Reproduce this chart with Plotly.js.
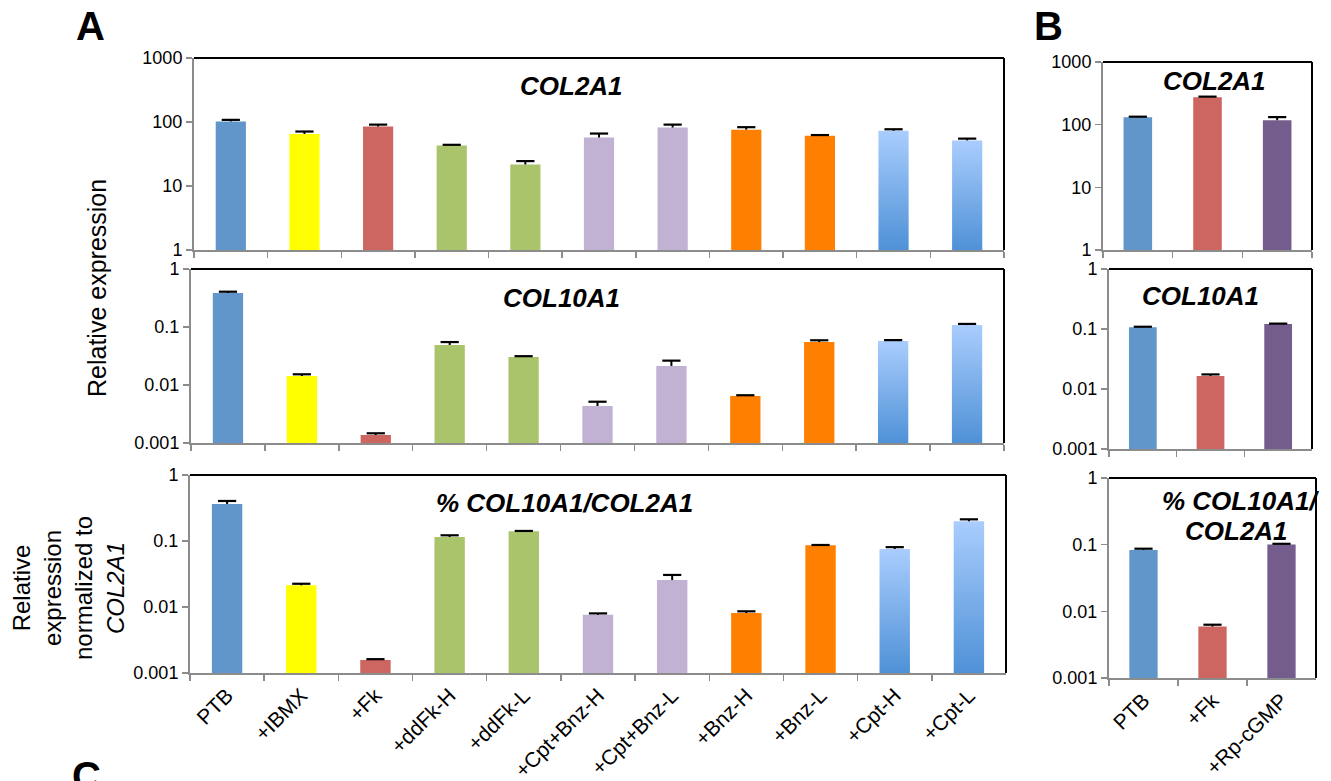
<!DOCTYPE html>
<html>
<head>
<meta charset="utf-8">
<script src="https://cdn.plot.ly/plotly-3.0.1.min.js"></script>
<style>
  html, body { margin: 0; padding: 0; background: #ffffff; }
  #chart { width: 1331px; height: 781px; }
</style>
</head>
<body>
<div id="chart"></div>
<script>
// ---------------- DATA ----------------
const catsA = ['PTB', '+IBMX', '+Fk', '+ddFk-H', '+ddFk-L', '+Cpt+Bnz-H', '+Cpt+Bnz-L', '+Bnz-H', '+Bnz-L', '+Cpt-H', '+Cpt-L'];
const col2a1A = [102, 65, 85, 43, 21.7, 57, 82, 76, 61, 73, 51.5];
const col2a1AErr = [6, 6, 6, 1, 2.8, 9, 9, 7, 1.5, 4, 3.5];
const col10a1A = [0.386, 0.0143, 0.00137, 0.049, 0.0304, 0.00435, 0.0213, 0.00646, 0.055, 0.0574, 0.108];
const col10a1AErr = [0.02, 0.001, 0.0001, 0.006, 0.001, 0.0008, 0.005, 0.0002, 0.004, 0.002, 0.005];
const ratioA = [0.364, 0.0213, 0.00157, 0.115, 0.140, 0.0076, 0.0256, 0.0081, 0.086, 0.0757, 0.199];
const ratioAErr = [0.04, 0.0012, 0.00005, 0.007, 0.002, 0.0004, 0.005, 0.0005, 0.001, 0.005, 0.014];

const catsB = ['PTB', '+Fk', '+Rp-cGMP'];
const col2a1B = [131, 275, 118];
const col2a1BErr = [3, 5, 14];
const col10a1B = [0.107, 0.0165, 0.121];
const col10a1BErr = [0.002, 0.001, 0.002];
const ratioB = [0.083, 0.0059, 0.101];
const ratioBErr = [0.004, 0.0004, 0.002];

// ---------------- STYLE ----------------
const W = 1331, H = 781;
const CPT = '#7fb1ec';
const colorsA = ['#6096c9', '#ffff00', '#cd6660', '#aac46b', '#aac46b', '#c1b2d3', '#c1b2d3', '#ff7f00', '#ff7f00', CPT, CPT];
const colorsB = ['#6096c9', '#cd6660', '#745c8d'];
const AXIS_GRAY = '#8c8c8c';
const FONT = 'Liberation Sans, Arial, sans-serif';

const px = x => x / W;
const py = y => 1 - y / H;

// subplot boxes in pixels [left, right, top, bottom]
const boxes = [
  [194, 1004, 58, 250],   // A top
  [191, 1004, 269, 443],  // A middle
  [190, 1006, 475, 673],  // A bottom
  [1103, 1312, 62, 250],  // B top
  [1109, 1312, 269, 449], // B middle
  [1109, 1316, 478, 678]  // B bottom
];

const suffix = i => (i === 0 ? '' : String(i + 1));

function barTrace(idx, cats, vals, colors) {
  const s = suffix(idx);
  return {
    type: 'bar', x: cats, y: vals,
    xaxis: 'x' + s, yaxis: 'y' + s,
    marker: { color: colors, line: { width: 0 } },
    hoverinfo: 'x+y', showlegend: false
  };
}
// plus-only error bars: cap marker at value+error, stem going down to the bar top
function errTrace(idx, cats, vals, errs) {
  const s = suffix(idx);
  return {
    type: 'scatter', mode: 'markers',
    x: cats, y: vals.map((v, i) => v + errs[i]),
    xaxis: 'x' + s, yaxis: 'y' + s,
    marker: { symbol: 'line-ew', size: 13, color: '#000000', line: { width: 2.2, color: '#000000' } },
    error_y: { type: 'data', symmetric: false, array: errs.map(() => 0), arrayminus: errs,
               color: '#000000', thickness: 2, width: 0 },
    cliponaxis: false, hoverinfo: 'skip', showlegend: false
  };
}

const series = [
  [catsA, col2a1A, col2a1AErr, colorsA],
  [catsA, col10a1A, col10a1AErr, colorsA],
  [catsA, ratioA, ratioAErr, colorsA],
  [catsB, col2a1B, col2a1BErr, colorsB],
  [catsB, col10a1B, col10a1BErr, colorsB],
  [catsB, ratioB, ratioBErr, colorsB]
];
const data = [];
series.forEach((sr, i) => data.push(barTrace(i, sr[0], sr[1], sr[3])));
series.forEach((sr, i) => data.push(errTrace(i, sr[0], sr[1], sr[2])));

const layout = {
  width: W, height: H,
  margin: { l: 0, r: 0, t: 0, b: 0 },
  paper_bgcolor: '#ffffff', plot_bgcolor: '#ffffff',
  font: { family: FONT, color: '#000000', size: 18 },
  bargap: 0.59,
  showlegend: false,
  shapes: [],
  annotations: []
};

const logTicksHigh = { vals: [1, 10, 100, 1000], text: ['1', '10', '100', '1000'] };
const logTicksLow = { vals: [0.001, 0.01, 0.1, 1], text: ['0.001', '0.01', '0.1', '1'] };

boxes.forEach((b, i) => {
  const s = suffix(i);
  const isTop = (i % 3) === 0;
  const isBottom = (i % 3) === 2;
  const ticks = isTop ? logTicksHigh : logTicksLow;
  const nCats = series[i][0].length;
  layout['xaxis' + s] = {
    domain: [px(b[0]), px(b[1])],
    anchor: 'y' + s,
    type: 'category',
    range: [-0.5, nCats - 0.5],
    showline: true, linecolor: AXIS_GRAY, linewidth: 2,
    ticks: 'outside', tickson: 'boundaries', ticklen: 6, tickwidth: 1.5, tickcolor: AXIS_GRAY,
    showgrid: false, zeroline: false,
    showticklabels: isBottom,
    tickangle: -45,
    tickfont: { family: FONT, size: 21, color: '#000000' },
    fixedrange: true
  };
  layout['yaxis' + s] = {
    domain: [py(b[3]), py(b[2])],
    anchor: 'x' + s,
    type: 'log',
    range: isTop ? [0, 3] : [-3, 0],
    tickvals: ticks.vals, ticktext: ticks.text,
    showline: true, linecolor: AXIS_GRAY, linewidth: 2,
    ticks: 'outside', ticklen: 6, tickwidth: 1.5, tickcolor: AXIS_GRAY,
    showgrid: false, zeroline: false,
    tickfont: { family: FONT, size: 18, color: '#000000' },
    fixedrange: true
  };
  // black top and right borders
  layout.shapes.push({ type: 'line', xref: 'x' + s + ' domain', yref: 'y' + s + ' domain',
    x0: 0, x1: 1, y0: 1, y1: 1, line: { color: '#000000', width: 2 } });
  layout.shapes.push({ type: 'line', xref: 'x' + s + ' domain', yref: 'y' + s + ' domain',
    x0: 1, x1: 1, y0: 0, y1: 1, line: { color: '#000000', width: 2 } });
});

const titleFont = { family: FONT, size: 26, color: '#000000' };
function ann(text, x, y, font, extra) {
  return Object.assign({ text: text, x: px(x), y: py(y), xref: 'paper', yref: 'paper',
    showarrow: false, font: font, xanchor: 'center', yanchor: 'middle' }, extra || {});
}
layout.annotations.push(
  ann('<b><i>COL2A1</i></b>', 571, 86, titleFont),
  ann('<b><i>COL10A1</i></b>', 561, 298, titleFont),
  ann('<b><i>% COL10A1/COL2A1</i></b>', 564, 503, titleFont),
  ann('<b><i>COL2A1</i></b>', 1214, 81, titleFont),
  ann('<b><i>COL10A1</i></b>', 1200, 296, titleFont),
  ann('<b><i>% COL10A1/</i></b>', 1160, 501, titleFont, { xanchor: 'left' }),
  ann('<b><i>COL2A1</i></b>', 1236, 531, titleFont),
  ann('<b>A</b>', 90, 26, { family: FONT, size: 40, color: '#000000' }),
  ann('<b>B</b>', 1048, 26, { family: FONT, size: 40, color: '#000000' }),
  ann('<b>C</b>', 86, 752, { family: FONT, size: 40, color: '#000000' }, { yanchor: 'top' }),
  ann('Relative expression', 97, 288, { family: FONT, size: 25, color: '#000000' }, { textangle: -90 }),
  ann('Relative<br>expression<br>normalized to<br><i>COL2A1</i>', 68, 588,
      { family: FONT, size: 24, color: '#000000' }, { textangle: -90 })
);

Plotly.newPlot('chart', data, layout, { displayModeBar: false, staticPlot: true }).then(gd => {
  // Vertical light-to-dark gradient for the +Cpt bars, running from each bar's top
  // down to the bottom of its plot area (bars on log axes extend far below the clip).
  const NS = 'http://www.w3.org/2000/svg';
  const svg = gd.querySelector('.main-svg');
  let defs = svg.querySelector('defs');
  if (!defs) { defs = document.createElementNS(NS, 'defs'); svg.insertBefore(defs, svg.firstChild); }
  let gid = 0;
  ['xy', 'x2y2', 'x3y3'].forEach((sp, si) => {
    const ya = gd._fullLayout['yaxis' + suffix(si)];
    const bottom = ya._length;
    const pts = gd.querySelectorAll('.subplot.' + sp + ' .barlayer .trace .point');
    pts.forEach((pt, pi) => {
      if (colorsA[pi] !== CPT) return;
      const path = pt.querySelector('path');
      if (!path) return;
      const bb = path.getBBox();
      const id = 'cptGrad' + (gid++);
      const grad = document.createElementNS(NS, 'linearGradient');
      grad.setAttribute('id', id);
      grad.setAttribute('gradientUnits', 'userSpaceOnUse');
      grad.setAttribute('x1', bb.x); grad.setAttribute('x2', bb.x);
      grad.setAttribute('y1', bb.y); grad.setAttribute('y2', bottom);
      [['0', '#a9cdfd'], ['1', '#4f91d7']].forEach(([o, c]) => {
        const st = document.createElementNS(NS, 'stop');
        st.setAttribute('offset', o);
        st.setAttribute('stop-color', c);
        grad.appendChild(st);
      });
      defs.appendChild(grad);
      path.style.setProperty('fill', 'url(#' + id + ')', 'important');
    });
  });
});
</script>
</body>
</html>
